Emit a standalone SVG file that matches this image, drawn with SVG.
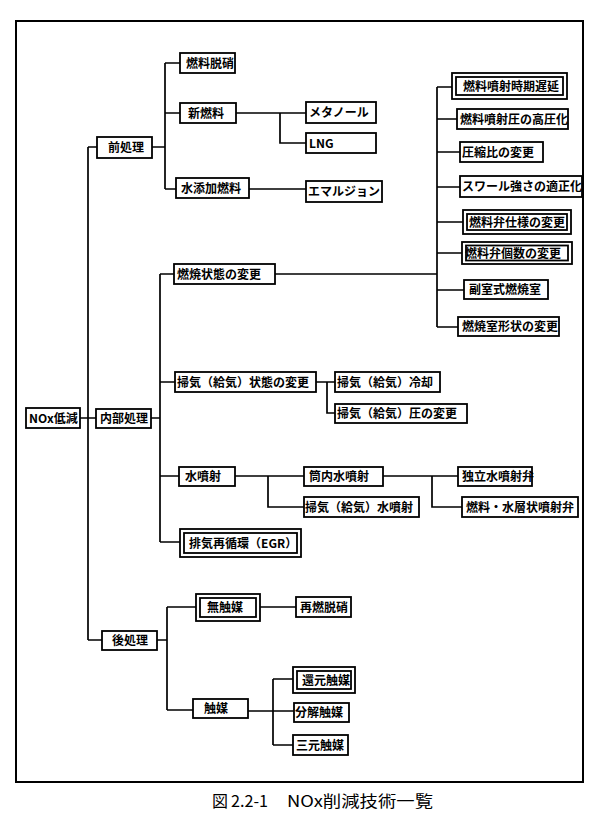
<svg xmlns="http://www.w3.org/2000/svg" width="600" height="832" viewBox="0 0 600 832">
<style>
.frame{fill:none;stroke:#000;stroke-width:2}
.b{fill:#fff;stroke:#000;stroke-width:1.8}
.c{fill:none;stroke:#000;stroke-width:1.7}
.t{font-family:"Noto Sans CJK JP","Noto Sans CJK SC",sans-serif;font-size:12px;font-weight:bold;fill:#000}
.cap{font-family:"Noto Sans CJK JP","Noto Sans CJK SC",sans-serif;font-size:16px;fill:#000}
</style>
<rect x="0" y="0" width="600" height="832" fill="#fff"/>
<rect class="frame" x="16" y="21" width="567" height="761"/>
<g id="connectors">
<path class="c" d="M80,418H96 M88,147V640 M88,147H97 M88,640H102"/>
<path class="c" d="M152,147H165 M165,63V189 M165,63H180 M165,113H180 M165,189H176"/>
<path class="c" d="M236,113H306 M280,113V143H306 M249,189H306"/>
<path class="c" d="M151,418H160 M160,274V542 M160,274H174 M160,382H175 M160,476H179 M160,542H180"/>
<path class="c" d="M275,274H437 M437,87V327 M437,87H452 M437,119H457 M437,152H460 M437,187H460 M437,222H463 M437,253H462 M437,290H464 M437,327H458"/>
<path class="c" d="M316,382H335 M327,382V413H335"/>
<path class="c" d="M235,476H304 M268,476V507H304 M383,476H458 M432,476V507H462"/>
<path class="c" d="M157,640H167 M167,607V710 M167,607H196 M167,710H193 M260,607H296"/>
<path class="c" d="M248,711H294 M273,679V745 M273,679H293 M273,745H293"/>
</g>
<g id="n_nox"><rect class="b" x="26" y="408" width="54" height="20"/><text class="t" x="29" y="422.5">NOx低減</text></g>
<g id="n_mae"><rect class="b" x="97" y="137" width="55" height="21"/><text class="t" x="108" y="152">前処理</text></g>
<g id="n_nainbu"><rect class="b" x="96" y="409" width="55" height="19"/><text class="t" x="100" y="423">内部処理</text></g>
<g id="n_ato"><rect class="b" x="102" y="631" width="55" height="19"/><text class="t" x="112" y="645">後処理</text></g>
<g id="n_datsu"><rect class="b" x="180" y="53" width="55" height="20"/><text class="t" x="186" y="67.5">燃料脱硝</text></g>
<g id="n_shin"><rect class="b" x="180" y="103" width="56" height="20"/><text class="t" x="188" y="117.5">新燃料</text></g>
<g id="n_mizutenka"><rect class="b" x="176" y="178" width="73" height="20"/><text class="t" x="181" y="192.5">水添加燃料</text></g>
<g id="n_meta"><rect class="b" x="306" y="102" width="70" height="21"/><text class="t" x="309" y="117">メタノール</text></g>
<g id="n_lng"><rect class="b" x="306" y="133" width="70" height="20"/><text class="t" x="309" y="147.5">LNG</text></g>
<g id="n_emul"><rect class="b" x="306" y="181" width="76" height="21"/><text class="t" x="308" y="196">エマルジョン</text></g>
<g id="n_nensho"><rect class="b" x="174" y="264" width="101" height="20"/><text class="t" x="177" y="278.5">燃焼状態の変更</text></g>
<g id="n_soki"><rect class="b" x="175" y="372" width="141" height="20"/><text class="t" x="177" y="386.5">掃気（給気）状態の変更</text></g>
<g id="n_mizufun"><rect class="b" x="179" y="467" width="56" height="19"/><text class="t" x="185" y="481">水噴射</text></g>
<g id="n_egr"><rect class="b" x="180" y="529" width="121" height="28"/><rect class="b" x="184" y="533" width="113" height="20"/><text class="t" x="189" y="547.5">排気再循環（EGR）</text></g>
<g id="n_jiki"><rect class="b" x="452" y="73" width="115" height="26"/><rect class="b" x="456" y="77" width="107" height="18"/><text class="t" x="463" y="90.5">燃料噴射時期遅延</text></g>
<g id="n_koatsu"><rect class="b" x="457" y="109" width="111" height="20"/><text class="t" x="460" y="123.5">燃料噴射圧の高圧化</text></g>
<g id="n_asshuku"><rect class="b" x="460" y="142" width="83" height="20"/><text class="t" x="462" y="156.5">圧縮比の変更</text></g>
<g id="n_swirl"><rect class="b" x="460" y="176" width="122" height="21"/><text class="t" x="462" y="191">スワール強さの適正化</text></g>
<g id="n_benshiyo"><rect class="b" x="463" y="210" width="108" height="24"/><rect class="b" x="467" y="214" width="100" height="16"/><text class="t" x="469" y="226.5">燃料弁仕様の変更</text></g>
<g id="n_benkosu"><rect class="b" x="462" y="242" width="110" height="22"/><rect class="b" x="466" y="245.5" width="102" height="15"/><text class="t" x="465" y="257.5">燃料弁個数の変更</text></g>
<g id="n_fukushitsu"><rect class="b" x="464" y="280" width="84" height="19"/><text class="t" x="469" y="294">副室式燃焼室</text></g>
<g id="n_keijo"><rect class="b" x="458" y="317" width="101" height="19"/><text class="t" x="462" y="331">燃焼室形状の変更</text></g>
<g id="n_reikyaku"><rect class="b" x="335" y="372" width="105" height="20"/><text class="t" x="337" y="386.5">掃気（給気）冷却</text></g>
<g id="n_atsu"><rect class="b" x="335" y="404" width="132" height="19"/><text class="t" x="337" y="418">掃気（給気）圧の変更</text></g>
<g id="n_tonai"><rect class="b" x="304" y="467" width="79" height="19"/><text class="t" x="309" y="481">筒内水噴射</text></g>
<g id="n_sokimizu"><rect class="b" x="304" y="497" width="115" height="20"/><text class="t" x="305" y="511.5">掃気（給気）水噴射</text></g>
<g id="n_dokuritsu"><rect class="b" x="458" y="467" width="74" height="19"/><text class="t" x="462" y="481">独立水噴射弁</text></g>
<g id="n_sojo"><rect class="b" x="462" y="497" width="116" height="20"/><text class="t" x="466" y="511.5">燃料・水層状噴射弁</text></g>
<g id="n_mushokubai"><rect class="b" x="196" y="594" width="64" height="27"/><rect class="b" x="200" y="598" width="56" height="19"/><text class="t" x="207" y="612">無触媒</text></g>
<g id="n_sainen"><rect class="b" x="296" y="597" width="55" height="20"/><text class="t" x="300" y="611.5">再燃脱硝</text></g>
<g id="n_shokubai"><rect class="b" x="193" y="699" width="55" height="19"/><text class="t" x="204" y="713">触媒</text></g>
<g id="n_kangen"><rect class="b" x="293" y="667" width="62" height="26"/><rect class="b" x="297" y="671" width="54" height="18"/><text class="t" x="302" y="684.5">還元触媒</text></g>
<g id="n_bunkai"><rect class="b" x="294" y="703" width="55" height="19"/><text class="t" x="295" y="717">分解触媒</text></g>
<g id="n_sangen"><rect class="b" x="293" y="735" width="55" height="20"/><text class="t" x="296" y="749.5">三元触媒</text></g>
<text class="cap" y="807"><tspan x="212">図</tspan><tspan x="231" textLength="37" lengthAdjust="spacingAndGlyphs">2.2-1</tspan><tspan x="287" textLength="146" lengthAdjust="spacingAndGlyphs">NOx削減技術一覧</tspan></text>
</svg>
